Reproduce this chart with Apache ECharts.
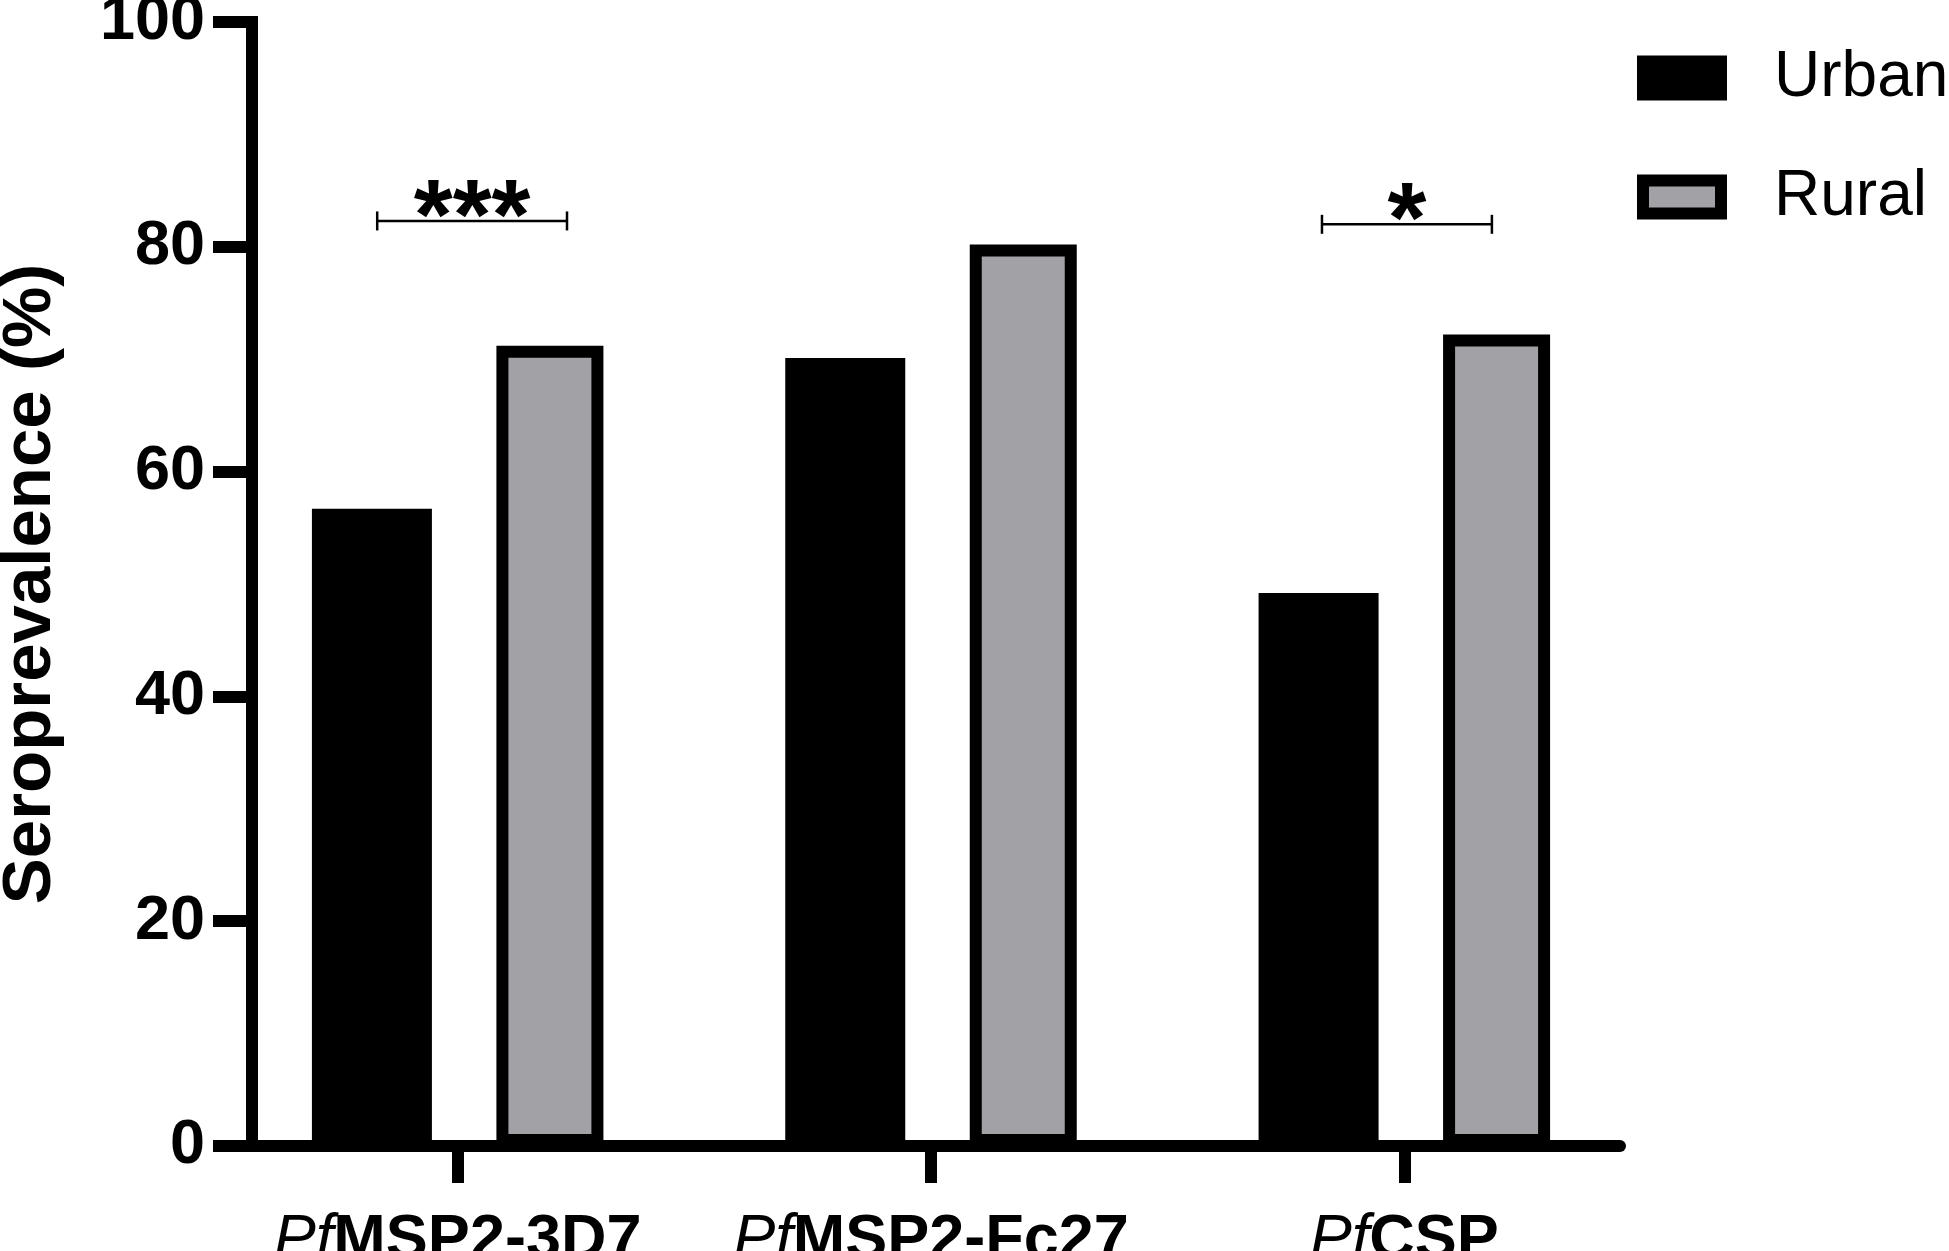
<!DOCTYPE html>
<html>
<head>
<meta charset="utf-8">
<title>Seroprevalence Urban vs Rural</title>
<script src="https://cdn.jsdelivr.net/npm/echarts@6/dist/echarts.min.js"></script>
<style>
  html, body { margin: 0; padding: 0; background: #fff; }
  #chart { width: 1949px; height: 1251px; }
</style>
</head>
<body>
<div id="chart"></div>
<script>
// Categories on the x axis (first two letters are the italic "Pf")
var antigens = ['PfMSP2-3D7', 'PfMSP2-Fc27', 'PfCSP'];

// Seroprevalence (%)
var urbanValues = [56.7, 70.1, 49.2];
var ruralValues = [71.2, 80.2, 72.2];

// y axis tick values
var yTicks = [0, 20, 40, 60, 80, 100];

// Significance brackets, x in category units (0 = centre of first antigen)
var bracketFrom = [-0.17, 1.826];
var bracketTo = [0.231, 2.185];
var bracketHeight = [82.3, 82.0];
var bracketLabel = ['***', '*'];

var FONT = '"Liberation Sans", Arial, sans-serif';
var GRAY = '#a2a1a6';

// Draw one bracket with its stars
function renderBracket(params, api) {
  var p0 = api.coord([api.value(0), api.value(2)]);
  var p1 = api.coord([api.value(1), api.value(2)]);
  var cap = 9.5;
  var lineStyle = { stroke: '#000', lineWidth: 2.5 };
  return {
    type: 'group',
    children: [
      { type: 'line', shape: { x1: p0[0], y1: p0[1], x2: p1[0], y2: p1[1] }, style: lineStyle },
      { type: 'line', shape: { x1: p0[0], y1: p0[1] - cap, x2: p0[0], y2: p0[1] + cap }, style: lineStyle },
      { type: 'line', shape: { x1: p1[0], y1: p1[1] - cap, x2: p1[0], y2: p1[1] + cap }, style: lineStyle },
      {
        type: 'text',
        x: (p0[0] + p1[0]) / 2,
        y: p0[1],
        style: {
          text: bracketLabel[params.dataIndex],
          fontSize: 100, fontWeight: 'bold', fontFamily: FONT,
          align: 'center', verticalAlign: 'middle', fill: '#000'
        }
      }
    ]
  };
}

var bracketData = bracketFrom.map(function (f, i) {
  return [f, bracketTo[i], bracketHeight[i]];
});

var myChart = echarts.init(document.getElementById('chart'));

var option = {
  animation: false,
  backgroundColor: '#fff',
  grid: [
    // main plotting grid
    { left: 221, right: 308, top: 22, bottom: 105, outerBoundsMode: 'none', containLabel: false },
    // only used for the x axis line, which stops short of the last category edge
    { left: 246, right: 329, top: 22, bottom: 105, outerBoundsMode: 'none', containLabel: false }
  ],
  legend: {
    orient: 'vertical',
    left: 1637,
    top: 46,
    padding: 0,
    itemWidth: 78,
    itemHeight: 33,
    itemGap: 55,
    selectedMode: false,
    textStyle: {
      fontSize: 64, fontFamily: FONT, color: '#000',
      padding: [0, 0, 0, 48]
    },
    data: [
      { name: 'Urban', icon: 'rect', itemStyle: { color: '#000', borderColor: '#000', borderWidth: 12 } },
      { name: 'Rural', icon: 'rect', itemStyle: { color: GRAY, borderColor: '#000', borderWidth: 12 } }
    ]
  },
  xAxis: [
    {
      type: 'category',
      gridIndex: 0,
      data: antigens,
      z: 3,
      axisLine: { show: false },
      axisTick: { show: true, alignWithLabel: true, length: 37, lineStyle: { color: '#000', width: 12 } },
      axisLabel: {
        margin: 63,
        color: '#000',
        formatter: function (v) {
          return '{i|' + v.slice(0, 2) + '}{b|' + v.slice(2) + '}';
        },
        rich: {
          i: { fontStyle: 'italic', fontSize: 63, fontFamily: FONT, color: '#000' },
          b: { fontWeight: 'bold', fontSize: 63, fontFamily: FONT, color: '#000' }
        }
      },
      splitLine: { show: false }
    },
    {
      // hidden numeric axis used to place the brackets
      type: 'value',
      gridIndex: 0,
      min: -0.5,
      max: antigens.length - 0.5,
      show: false
    },
    {
      type: 'value',
      gridIndex: 1,
      min: 0,
      max: 1,
      z: 3,
      axisLine: { show: true, lineStyle: { color: '#000', width: 12 } },
      axisTick: { show: false },
      axisLabel: { show: false },
      splitLine: { show: false }
    }
  ],
  yAxis: [
    {
      type: 'value',
      gridIndex: 0,
      min: yTicks[0],
      max: yTicks[yTicks.length - 1],
      interval: yTicks[1] - yTicks[0],
      offset: -31,
      name: 'Seroprevalence (%)',
      nameLocation: 'middle',
      nameGap: 187,
      nameTextStyle: { fontSize: 69, fontWeight: 'bold', fontFamily: FONT, color: '#000' },
      axisLine: { show: true, onZero: false, lineStyle: { color: '#000', width: 12, cap: 'square' } },
      axisTick: { show: true, length: 39, lineStyle: { color: '#000', width: 12 } },
      axisLabel: { margin: 47, fontSize: 63, fontWeight: 'bold', fontFamily: FONT, color: '#000' },
      splitLine: { show: false }
    },
    {
      type: 'value',
      gridIndex: 1,
      min: 0,
      max: 1,
      show: false
    }
  ],
  series: [
    {
      name: 'Urban',
      type: 'bar',
      xAxisIndex: 0,
      yAxisIndex: 0,
      barWidth: 120,
      barGap: '53.75%',
      itemStyle: { color: '#000' },
      data: urbanValues
    },
    {
      name: 'Rural',
      type: 'bar',
      xAxisIndex: 0,
      yAxisIndex: 0,
      barWidth: 107,
      barGap: '53.75%',
      itemStyle: { color: GRAY, borderColor: '#000', borderWidth: 12 },
      data: ruralValues
    },
    {
      type: 'custom',
      xAxisIndex: 1,
      yAxisIndex: 0,
      renderItem: renderBracket,
      encode: { x: [0, 1], y: 2 },
      silent: true,
      data: bracketData
    }
  ]
};

myChart.setOption(option);
</script>
</body>
</html>
